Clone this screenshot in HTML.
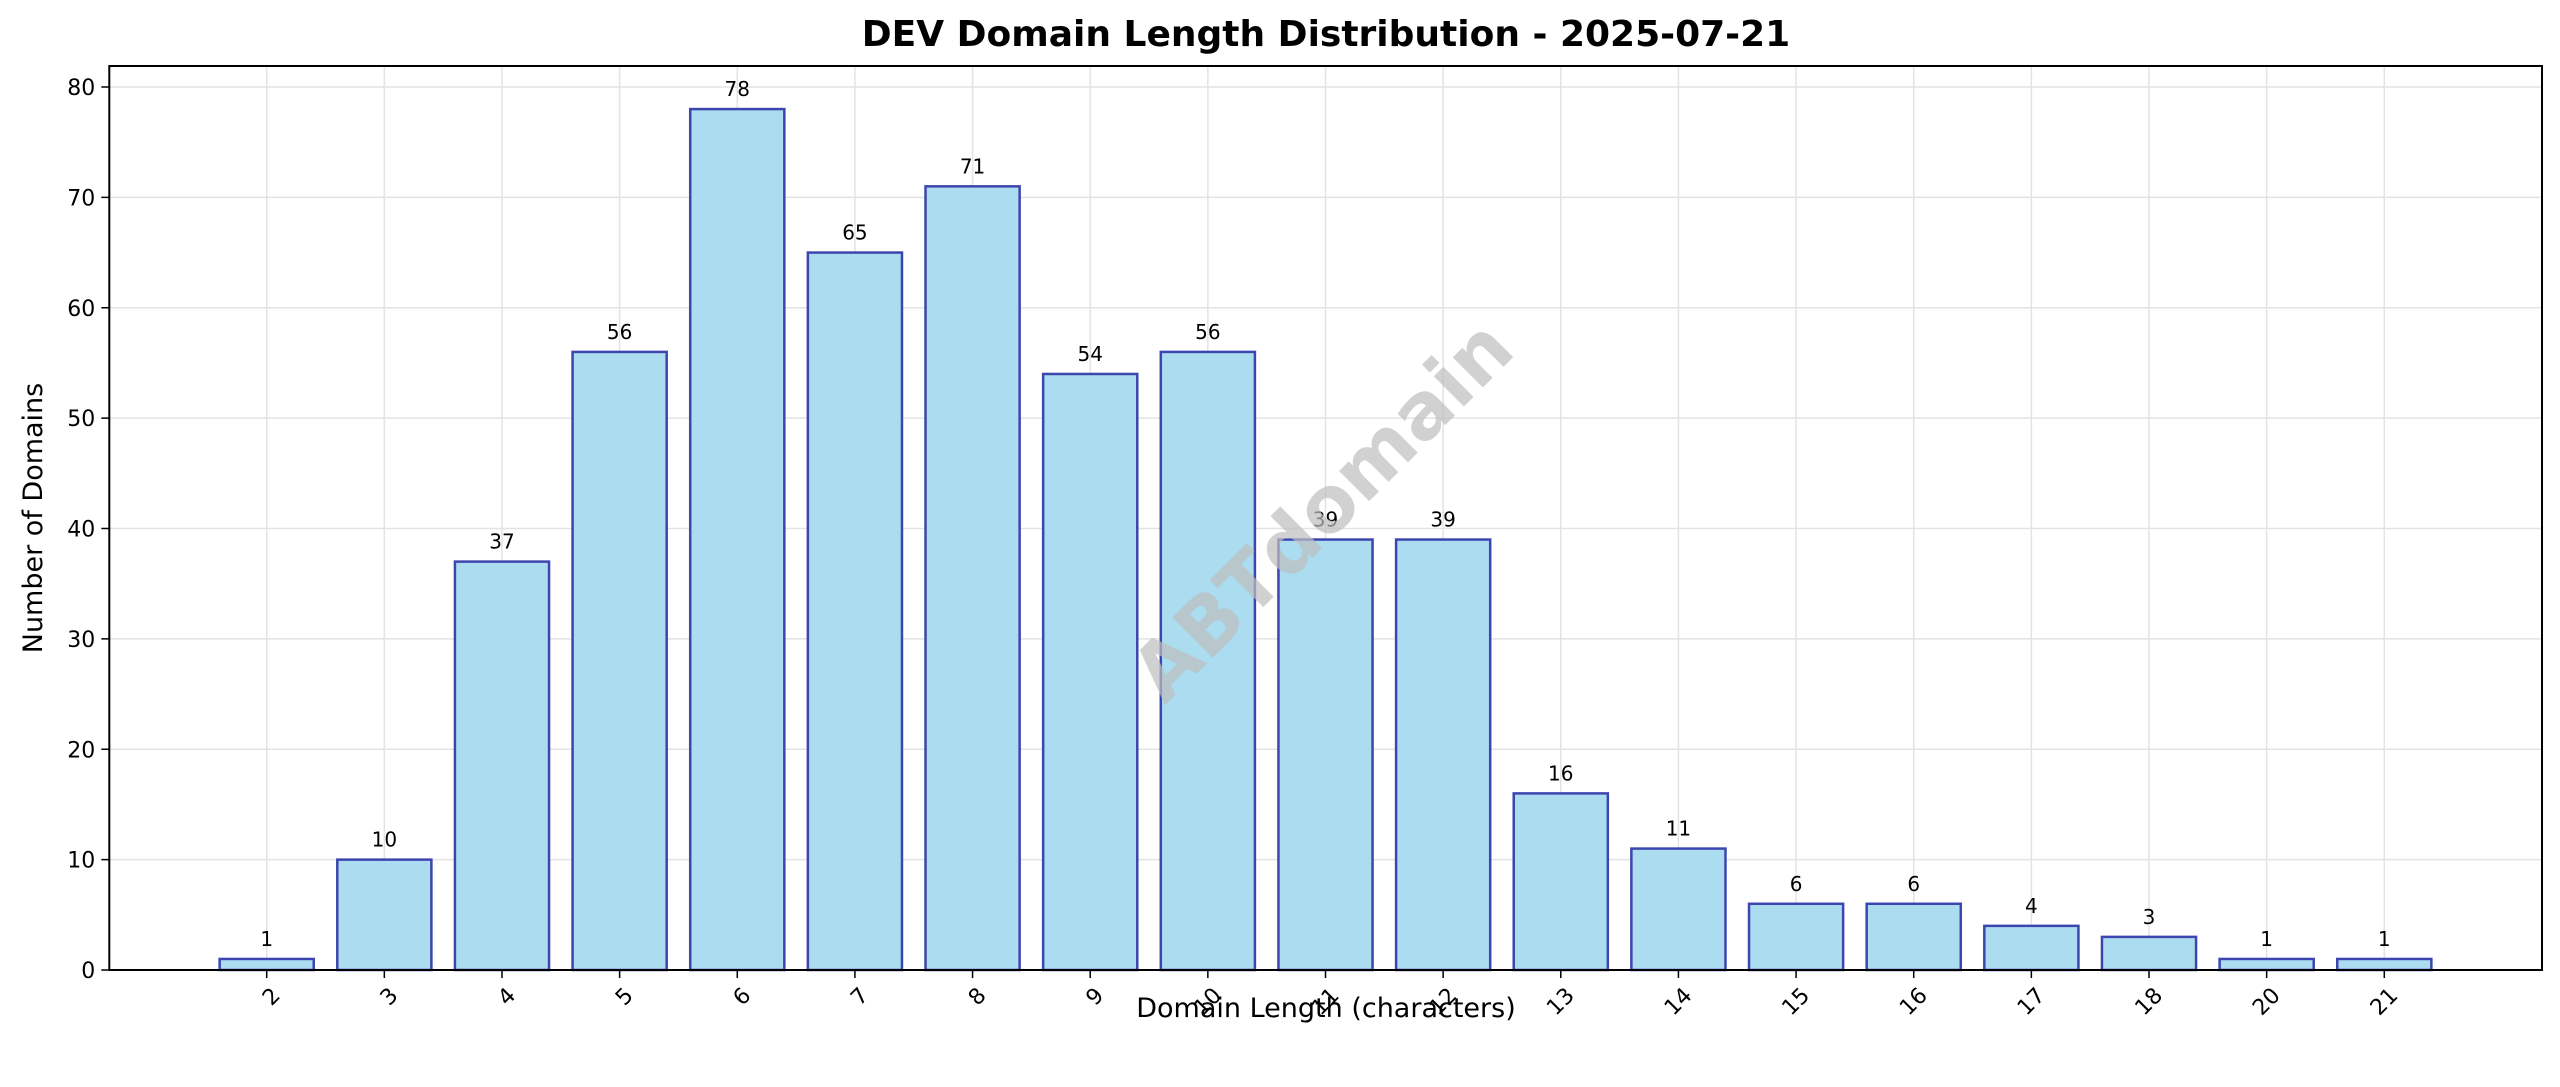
<!DOCTYPE html>
<html><head><meta charset="utf-8"><style>
html,body{margin:0;padding:0;background:#fff;}
svg{display:block;font-family:"DejaVu Sans","Liberation Sans",sans-serif;}
</style></head><body>
<svg id="chart" width="2560" height="1087" viewBox="0 0 2560 1087">
<rect width="2560" height="1087" fill="#fff"/>
<text x="1326" y="46" text-anchor="middle" font-size="36" font-weight="bold" fill="#000">DEV Domain Length Distribution - 2025-07-21</text>
<g id="grid"></g>
<g id="bars"></g>
<g id="labels"></g>
<g id="axes"></g>
<text x="1326" y="514" text-anchor="middle" dominant-baseline="middle" font-size="78" font-weight="bold" fill="#bdbdbd" fill-opacity="0.7" transform="rotate(-45 1326 514)">ABTdomain</text>
<text x="1326" y="1017" text-anchor="middle" font-size="27" fill="#000">Domain Length (characters)</text>
<text x="42" y="518" text-anchor="middle" font-size="27" fill="#000" transform="rotate(-90 42 518)">Number of Domains</text>
</svg>
<script>
const categories = ["2","3","4","5","6","7","8","9","10","11","12","13","14","15","16","17","18","20","21"];
const counts = [1,10,37,56,78,65,71,54,56,39,39,16,11,6,6,4,3,1,1];
const yTicks = [0,10,20,30,40,50,60,70,80];

const NS = "http://www.w3.org/2000/svg";
const L = 109.3, R = 2542, T = 66, B = 970;
const step = (2384.3 - 266.7) / 18;
const xMin = -(266.7 - L) / step;
function xScale(i){ return L + (i - xMin) * step; }
const yMax = (B - T) / ((970 - 87) / 80);
function yScale(v){ return B - v / yMax * (B - T); }

function mk(tag, attrs, parent){
  const e = document.createElementNS(NS, tag);
  for (const k in attrs) e.setAttribute(k, attrs[k]);
  parent.appendChild(e);
  return e;
}
const grid = document.getElementById('grid');
const bars = document.getElementById('bars');
const labels = document.getElementById('labels');
const axes = document.getElementById('axes');

yTicks.forEach(function(t){
  const y = yScale(t);
  const g = mk('line', {x1:L, x2:R, y1:y, y2:y, stroke:'#e3e3e3', 'stroke-width':1.5}, grid);
  
  
  const tk = mk('line', {x1:L-8, x2:L, y1:y, y2:y, stroke:'#000', 'stroke-width':1.5}, axes);
  
  
  const tx = mk('text', {x:L-14, y:y+8, 'text-anchor':'end', 'font-size':22, fill:'#000'}, axes);
  tx.textContent = t;
  
  
});

const bw = step * 0.8;
categories.forEach(function(c, i){
  const cx = xScale(i);
  const gl = mk('line', {x1:cx, x2:cx, y1:T, y2:B, stroke:'#e3e3e3', 'stroke-width':1.5}, grid);
  
  
  const v = counts[i];
  const y = yScale(v);
  const r = mk('rect', {x:cx-bw/2, y:y, width:bw, height:B-y, fill:'#abdcef', stroke:'#3d46ae', 'stroke-width':2.5}, bars);
  
  
  const vt = mk('text', {x:cx, y:y-13, 'text-anchor':'middle', 'font-size':20, fill:'#000'}, labels);
  vt.textContent = v;
  
  
  const tk = mk('line', {x1:cx, x2:cx, y1:B, y2:B+8, stroke:'#000', 'stroke-width':1.5}, axes);
  
  
  const lx = cx + 4, ly = B + 16;
  const tl = mk('text', {x:lx, y:ly, 'text-anchor':'end', 'dominant-baseline':'hanging', 'font-size':22, fill:'#000', transform:'rotate(-45 ' + lx + ' ' + ly + ')'}, axes);
  tl.textContent = c;
  
  
});

const frame = mk('rect', {x:L, y:T, width:R-L, height:B-T, fill:'none', stroke:'#000', 'stroke-width':2}, axes);


</script>
</body></html>
